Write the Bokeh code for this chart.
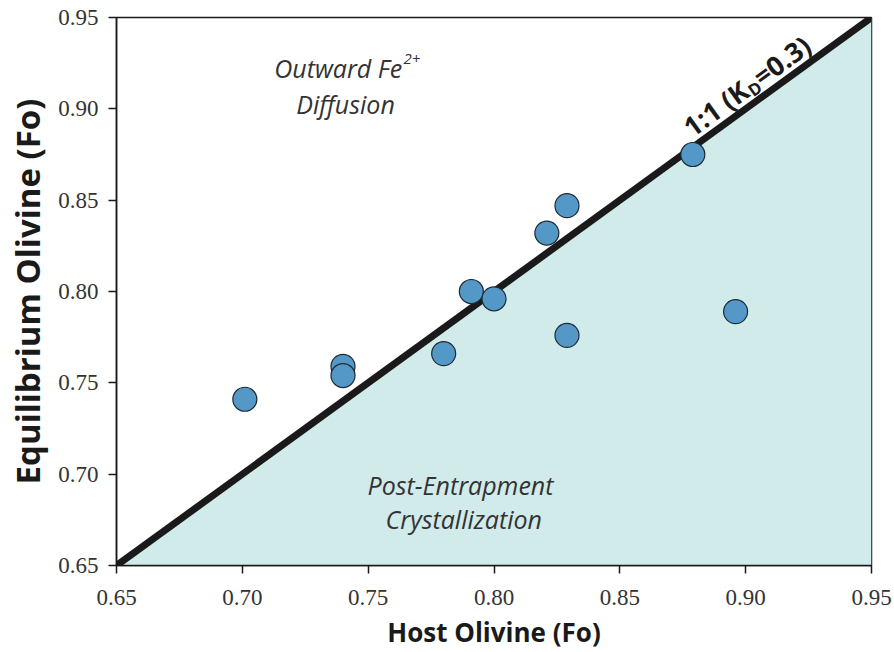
import math
from bokeh.plotting import figure
from bokeh.models import FixedTicker, Range1d
from bokeh.core.properties import value
from bokeh.embed import file_html
from bokeh.resources import INLINE

# ---------------- data ----------------
host_fo = [0.701, 0.740, 0.740, 0.780, 0.791, 0.800, 0.821, 0.829, 0.829, 0.879, 0.896]
eq_fo   = [0.741, 0.759, 0.754, 0.766, 0.800, 0.796, 0.832, 0.847, 0.776, 0.875, 0.789]

axis_lim = [0.65, 0.95]
tick_values = [0.65, 0.70, 0.75, 0.80, 0.85, 0.90, 0.95]
tick_labels = ["0.65", "0.70", "0.75", "0.80", "0.85", "0.90", "0.95"]

x_title = "Host Olivine (Fo)"
y_title = "Equilibrium Olivine (Fo)"

# ---------------- layout ----------------
W, H = 894, 652
BL, BR, BT, BB = 116, 23, 17, 87
FW, FH = W - BL - BR, H - BT - BB

lo, hi = axis_lim
p = figure(width=W, height=H, output_backend="svg", toolbar_location=None,
           x_range=Range1d(lo, hi), y_range=Range1d(lo, hi),
           min_border_left=BL, min_border_right=BR, min_border_top=BT,
           min_border_bottom=BB, background_fill_color="white",
           border_fill_color="white")
p.grid.visible = False
p.outline_line_color = "#1a1a1a"
p.outline_line_width = 1.5

for ax in (p.xaxis[0], p.yaxis[0]):
    ax.ticker = FixedTicker(ticks=tick_values)
    ax.major_label_overrides = {v: l for v, l in zip(tick_values, tick_labels)}
    ax.minor_tick_line_color = None
    ax.major_tick_in = 0
    ax.major_tick_out = 8
    ax.major_tick_line_width = 1.5
    ax.major_tick_line_color = "#1a1a1a"
    ax.axis_line_width = 1.5
    ax.axis_line_color = "#1a1a1a"
    ax.major_label_text_font = "Liberation Serif"
    ax.major_label_text_font_size = "23px"
    ax.major_label_text_color = "#333333"
    ax.axis_label_text_font = "Open Sans"
    ax.axis_label_text_font_style = "bold"
    ax.axis_label_text_color = "#1a1a1a"

p.xaxis.axis_label = x_title
p.yaxis.axis_label = y_title
p.xaxis.axis_label_text_font_size = "26px"
p.yaxis.axis_label_text_font_size = "33px"
p.xaxis.major_label_standoff = 16
p.xaxis.axis_label_standoff = 6
p.yaxis.major_label_standoff = 10
p.yaxis.axis_label_standoff = 5

ppx = FW / (hi - lo)
ppy = FH / (hi - lo)

# ---------------- shaded region & 1:1 line ----------------
p.patch([lo, hi, hi], [lo, hi, lo], fill_color="#d1eaea", line_color=None)
p.line(axis_lim, axis_lim, line_color="#1a1a1a", line_width=7, line_cap="butt")

# ---------------- 1:1 label ----------------
theta = math.atan2(FH, FW)


def along(t, w, d):
    """point on the 1:1 line at t, moved w px along it and d px perpendicular"""
    return (t + (w * math.cos(theta) - d * math.sin(theta)) / ppx,
            t + (w * math.sin(theta) + d * math.cos(theta)) / ppy)


tA = 0.904
fs_main, fs_sub = 27, 17
wD = 0.74 * fs_sub
common = dict(angle=theta, text_font=value("Open Sans"), text_font_style="bold",
              text_color="#1a1a1a", text_baseline="alphabetic")
x1, y1 = along(tA, 0, 18)
p.text([x1], [y1], text=["1:1 (K"], text_align="right",
       text_font_size=f"{fs_main}px", **common)
x2, y2 = along(tA, 0.5, 11)
p.text([x2], [y2], text=["D"], text_align="left",
       text_font_size=f"{fs_sub}px", **common)
x3, y3 = along(tA, wD + 1, 18)
p.text([x3], [y3], text=["=0.3)"], text_align="left",
       text_font_size=f"{fs_main}px", **common)

# ---------------- region labels ----------------
ital = dict(text_font=value("Open Sans"), text_font_style="italic",
            text_color="#333333", text_baseline="alphabetic", text_font_size="25px")
p.text([0.7635], [0.9221], text=["Outward Fe"], text_align="right", **ital)
p.text([0.7640], [0.9272], text=["2+"], text_align="left",
       text_font=value("Open Sans"), text_font_style="italic",
       text_color="#333333", text_baseline="alphabetic", text_font_size="15px")
p.text([0.7410], [0.9029], text=["Diffusion"], text_align="center", **ital)
p.text([0.7867], [0.6938], text=["Post-Entrapment"], text_align="center", **ital)
p.text([0.7880], [0.6757], text=["Crystallization"], text_align="center", **ital)

# ---------------- data points ----------------
p.scatter(host_fo, eq_fo, size=24, marker="circle", fill_color="#5398c6",
          line_color="#1e2a33", line_width=1.2)

open("out.html", "w").write(file_html(p, INLINE))
